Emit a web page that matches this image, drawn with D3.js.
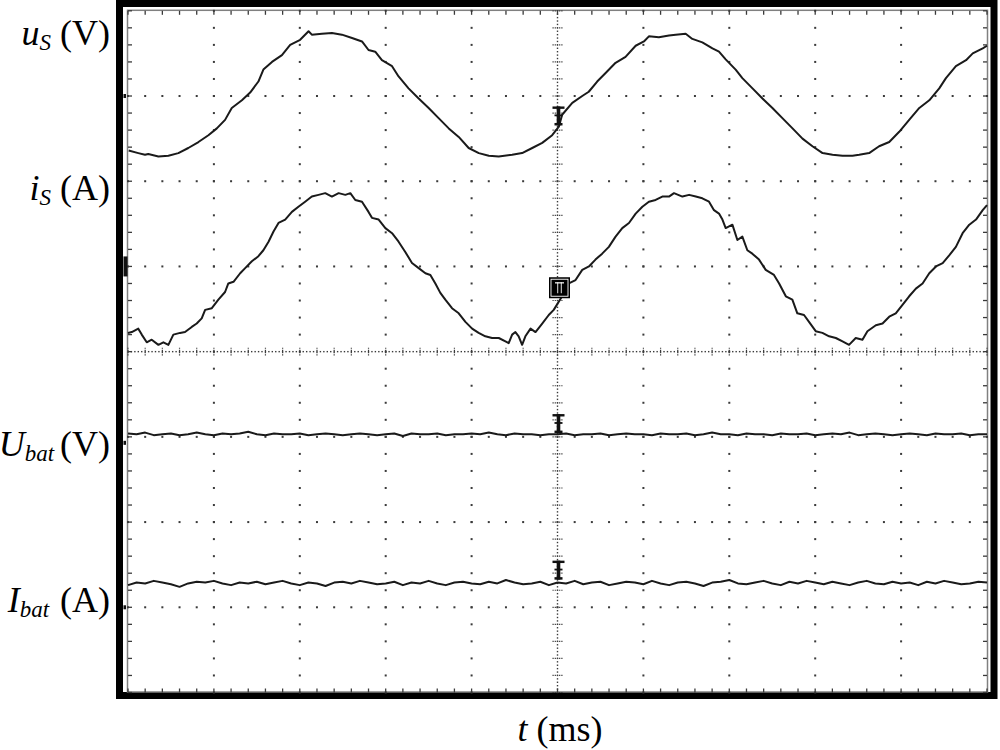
<!DOCTYPE html>
<html>
<head>
<meta charset="utf-8">
<script src="https://cdn.jsdelivr.net/npm/d3@7"></script>
<style>
html,body{margin:0;padding:0;background:#fff;}
svg{display:block;}
</style>
</head>
<body>
<svg id="c" width="1000" height="750"></svg>
<script>
// ---------- DATA (t in ms, 5 ms/div; values in divisions from screen centre) ----------
const uS_t = [0.04,0.60,0.99,1.18,1.77,2.35,2.93,3.51,4.10,4.68,5.17,5.65,6.04,6.63,7.11,7.59,7.88,8.38,8.96,9.44,10.02,10.51,10.70,11.29,11.87,12.45,13.04,13.62,14.00,14.39,14.78,15.37,15.75,16.33,16.92,17.50,18.08,18.67,19.25,19.83,20.42,21.00,21.58,22.36,22.94,23.53,24.11,24.69,25.08,25.27,25.86,26.44,26.82,27.31,27.80,28.38,28.96,29.55,30.03,30.32,30.90,31.49,31.88,32.46,32.85,33.43,34.02,34.40,34.79,35.37,35.76,36.35,36.93,37.51,38.09,38.68,39.26,39.84,40.43,41.01,41.59,42.17,42.56,43.14,43.72,44.31,44.89,45.47,46.06,46.64,47.22,47.61,48.19,48.78,49.17,49.75,50.0];
const uS_v = [2.36,2.33,2.31,2.32,2.29,2.30,2.33,2.39,2.46,2.54,2.62,2.72,2.86,2.95,3.04,3.17,3.31,3.40,3.48,3.60,3.66,3.76,3.72,3.73,3.74,3.72,3.68,3.64,3.54,3.52,3.42,3.35,3.23,3.09,2.97,2.86,2.74,2.62,2.52,2.39,2.33,2.30,2.29,2.31,2.33,2.39,2.45,2.54,2.64,2.78,2.92,3.00,3.05,3.17,3.27,3.39,3.46,3.59,3.64,3.70,3.69,3.71,3.72,3.73,3.67,3.63,3.56,3.52,3.43,3.31,3.21,3.09,2.97,2.86,2.74,2.62,2.50,2.41,2.33,2.31,2.30,2.30,2.31,2.33,2.41,2.46,2.58,2.72,2.86,2.95,3.09,3.21,3.35,3.42,3.50,3.56,3.59];

const iS_t = [0.00,0.22,0.60,0.80,1.09,1.38,1.77,2.06,2.35,2.64,3.03,3.32,3.71,4.00,4.29,4.49,4.88,5.26,5.65,5.84,6.14,6.53,6.82,7.21,7.59,7.88,8.18,8.47,8.76,9.15,9.54,9.92,10.31,10.70,11.09,11.48,11.87,12.26,12.65,12.94,13.23,13.62,14.00,14.20,14.59,14.98,15.37,15.75,16.14,16.53,16.92,17.31,17.60,17.89,18.18,18.47,18.86,19.25,19.64,20.03,20.41,20.80,21.19,21.58,21.97,22.16,22.36,22.55,22.74,22.94,23.13,23.43,23.72,24.11,24.49,24.78,25.27,25.66,26.05,26.44,26.83,27.21,27.60,27.99,28.38,28.77,29.16,29.55,29.94,30.32,30.71,31.10,31.49,31.78,32.27,32.66,33.05,33.43,33.82,34.11,34.40,34.60,34.79,35.18,35.47,35.76,36.05,36.34,36.73,37.12,37.60,37.90,38.29,38.67,38.96,39.35,39.64,40.03,40.42,40.81,41.20,41.59,41.97,42.36,42.75,43.04,43.53,43.92,44.31,44.69,45.08,45.47,45.86,46.25,46.64,47.03,47.42,47.80,48.19,48.58,48.97,49.36,49.75,50.0];
const iS_v = [0.22,0.23,0.27,0.20,0.11,0.14,0.08,0.11,0.08,0.20,0.22,0.23,0.29,0.33,0.39,0.49,0.51,0.61,0.70,0.80,0.82,0.92,0.98,1.06,1.12,1.19,1.29,1.41,1.51,1.55,1.64,1.70,1.76,1.82,1.84,1.86,1.82,1.86,1.84,1.86,1.78,1.76,1.64,1.57,1.55,1.45,1.39,1.29,1.17,1.04,0.98,0.92,0.90,0.80,0.69,0.61,0.51,0.45,0.35,0.27,0.22,0.18,0.16,0.16,0.12,0.10,0.20,0.23,0.18,0.08,0.18,0.27,0.23,0.33,0.43,0.49,0.65,0.80,0.84,0.96,1.00,1.08,1.15,1.23,1.35,1.45,1.51,1.62,1.70,1.76,1.78,1.82,1.82,1.86,1.82,1.84,1.82,1.80,1.76,1.66,1.62,1.55,1.45,1.49,1.31,1.35,1.19,1.15,1.08,0.96,0.90,0.80,0.65,0.61,0.45,0.43,0.35,0.24,0.22,0.18,0.16,0.12,0.08,0.16,0.14,0.24,0.31,0.33,0.41,0.45,0.55,0.65,0.74,0.80,0.92,1.00,1.04,1.13,1.23,1.39,1.49,1.55,1.66,1.72];

const bat_t = [0,0.5,1,1.5,2,2.5,3,3.5,4,4.5,5,5.5,6,6.5,7,7.5,8,8.5,9,9.5,10,10.5,11,11.5,12,12.5,13,13.5,14,14.5,15,15.5,16,16.5,17,17.5,18,18.5,19,19.5,20,20.5,21,21.5,22,22.5,23,23.5,24,24.5,25,25.5,26,26.5,27,27.5,28,28.5,29,29.5,30,30.5,31,31.5,32,32.5,33,33.5,34,34.5,35,35.5,36,36.5,37,37.5,38,38.5,39,39.5,40,40.5,41,41.5,42,42.5,43,43.5,44,44.5,45,45.5,46,46.5,47,47.5,48,48.5,49,49.5,50];
const Ubat_v = [-0.96,-0.97,-0.95,-0.98,-0.97,-0.96,-0.98,-0.97,-0.95,-0.97,
-0.98,-0.96,-0.97,-0.96,-0.94,-0.97,-0.98,-0.96,-0.97,-0.97,
-0.96,-0.98,-0.97,-0.96,-0.97,-0.98,-0.97,-0.96,-0.97,-0.98,
-0.97,-0.96,-0.99,-0.96,-0.97,-0.97,-0.96,-0.98,-0.97,-0.97,
-0.96,-0.97,-0.95,-0.97,-0.98,-0.96,-0.97,-0.97,-0.98,-0.97,
-0.97,-0.96,-0.98,-0.97,-0.97,-0.96,-0.98,-0.97,-0.96,-0.97,
-0.97,-0.98,-0.96,-0.97,-0.97,-0.96,-0.98,-0.97,-0.95,-0.97,
-0.97,-0.98,-0.96,-0.97,-0.97,-0.98,-0.96,-0.97,-0.97,-0.96,
-0.98,-0.97,-0.96,-0.97,-0.95,-0.98,-0.97,-0.96,-0.97,-0.98,
-0.97,-0.96,-0.97,-0.98,-0.96,-0.97,-0.97,-0.96,-0.98,-0.97,-0.97];
const Ibat_v = [-2.74,-2.71,-2.72,-2.69,-2.71,-2.73,-2.76,-2.72,-2.70,-2.71,
-2.69,-2.72,-2.74,-2.71,-2.72,-2.70,-2.73,-2.71,-2.69,-2.72,
-2.74,-2.71,-2.72,-2.75,-2.71,-2.70,-2.72,-2.69,-2.71,-2.73,
-2.72,-2.70,-2.74,-2.71,-2.72,-2.69,-2.72,-2.74,-2.71,-2.70,
-2.72,-2.73,-2.70,-2.72,-2.68,-2.71,-2.73,-2.72,-2.70,-2.74,
-2.71,-2.72,-2.69,-2.73,-2.71,-2.70,-2.74,-2.72,-2.70,-2.71,
-2.73,-2.69,-2.72,-2.74,-2.71,-2.70,-2.72,-2.75,-2.71,-2.70,
-2.68,-2.72,-2.73,-2.71,-2.69,-2.72,-2.74,-2.70,-2.72,-2.69,
-2.71,-2.73,-2.70,-2.72,-2.74,-2.71,-2.69,-2.72,-2.73,-2.70,
-2.72,-2.71,-2.74,-2.70,-2.72,-2.69,-2.71,-2.73,-2.72,-2.70,-2.71];

// trace reference markers (level in divisions)
const markerLevels = [2.76, -0.85, -2.57];
const boxMarkerLevel = 0.75;
const groundLevels = [3.0, 1.0, -1.07, -3.0];

// labels
const channelLabels = [
  {main:'u', sub:'S',   unit:'(V)', gap:9,  y:45},
  {main:'i', sub:'S',   unit:'(A)', gap:9,  y:200},
  {main:'U', sub:'bat', unit:'(V)', gap:6,  y:456},
  {main:'I', sub:'bat', unit:'(A)', gap:11, y:612}
];
const xLabel = {main:'t', unit:'(ms)'};

// ---------- DRAWING ----------
const svg = d3.select('#c');
const X = d3.scaleLinear().domain([0, 50]).range([128, 987]);
const Y = d3.scaleLinear().domain([-4, 4]).range([692.5, 10.8]);
const FONT = '"Liberation Serif","Times New Roman",Times,serif';

// outer heavy frame
svg.append('rect').attr('x', 119.5).attr('y', 3.5).attr('width', 874.5).attr('height', 692)
  .attr('fill', 'none').attr('stroke', '#000').attr('stroke-width', 7);
// graticule border
svg.append('rect').attr('x', X(0) - 0.5).attr('y', Y(4) - 0.5)
  .attr('width', X(50) - X(0) + 1).attr('height', Y(-4) - Y(4))
  .attr('fill', 'none').attr('stroke', '#808080').attr('stroke-width', 1.5);

const g = svg.append('g');
const dotCol = '#3a3a3a';
// major dotted grid lines
const xMaj = d3.range(0, 11).map(i => i * 5);
const yMaj = d3.range(0, 9).map(i => -4 + i);
const yMinor = d3.range(0, 41).map(j => -4 + j * 0.2);
const xMinor = d3.range(0, 51).map(j => j);
xMaj.forEach((xv, i) => {
  if (i === 0 || i === 10 || i === 5) return;
  yMinor.forEach(yv => g.append('rect').attr('x', X(xv) - 1).attr('y', Y(yv) - 1)
    .attr('width', 2).attr('height', 2).attr('fill', dotCol));
});
yMaj.forEach((yv, i) => {
  if (i === 0 || i === 8 || i === 4) return;
  xMinor.forEach(xv => g.append('rect').attr('x', X(xv) - 1).attr('y', Y(yv) - 1)
    .attr('width', 2).attr('height', 2).attr('fill', dotCol));
});
// centre axes: fine dots + minor crossbars
d3.range(0, 251).forEach(k => {
  const xv = k * 0.2;
  g.append('rect').attr('x', X(xv) - 0.7).attr('y', Y(0) - 0.7).attr('width', 1.4).attr('height', 1.4).attr('fill', dotCol);
});
d3.range(0, 201).forEach(k => {
  const yv = -4 + k * 0.04;
  g.append('rect').attr('x', X(25) - 0.7).attr('y', Y(yv) - 0.7).attr('width', 1.4).attr('height', 1.4).attr('fill', dotCol);
});
xMinor.forEach(xv => g.append('line').attr('x1', X(xv)).attr('x2', X(xv)).attr('y1', Y(0) - 4).attr('y2', Y(0) + 4)
  .attr('stroke', dotCol).attr('stroke-width', 1.2).attr('stroke-dasharray', '1.2,1'));
yMinor.forEach(yv => g.append('line').attr('y1', Y(yv)).attr('y2', Y(yv)).attr('x1', X(25) - 5).attr('x2', X(25) + 5)
  .attr('stroke', dotCol).attr('stroke-width', 1.2).attr('stroke-dasharray', '1.2,1'));
// edge ticks
xMinor.forEach(xv => {
  g.append('line').attr('x1', X(xv)).attr('x2', X(xv)).attr('y1', Y(4)).attr('y2', Y(4) + 4).attr('stroke', dotCol).attr('stroke-width', 1.3);
  g.append('line').attr('x1', X(xv)).attr('x2', X(xv)).attr('y1', Y(-4) - 4).attr('y2', Y(-4)).attr('stroke', dotCol).attr('stroke-width', 1.3);
});
yMinor.forEach(yv => {
  g.append('line').attr('y1', Y(yv)).attr('y2', Y(yv)).attr('x1', X(0)).attr('x2', X(0) + 4).attr('stroke', dotCol).attr('stroke-width', 1.3);
  g.append('line').attr('y1', Y(yv)).attr('y2', Y(yv)).attr('x1', X(50) - 4).attr('x2', X(50)).attr('stroke', dotCol).attr('stroke-width', 1.3);
});

// traces
const line = d3.line().x(d => X(d[0])).y(d => Y(d[1]));
const traces = [
  d3.zip(uS_t, uS_v),
  d3.zip(iS_t, iS_v),
  d3.zip(bat_t, Ubat_v),
  d3.zip(bat_t, Ibat_v)
];
svg.append('g').selectAll('path').data(traces).join('path')
  .attr('d', line).attr('fill', 'none').attr('stroke', '#1a1a1a')
  .attr('stroke-width', 2).attr('stroke-linejoin', 'round');

// trigger / reference markers at screen centre
const mk = svg.append('g');
markerLevels.forEach(lv => {
  const cx = X(25) + 1, cy = Y(lv);
  mk.append('rect').attr('x', cx - 6).attr('y', cy - 10).attr('width', 12).attr('height', 2.4).attr('fill', '#111');
  mk.append('rect').attr('x', cx - 1.8).attr('y', cy - 10).attr('width', 3.6).attr('height', 19).attr('fill', '#111');
  mk.append('rect').attr('x', cx - 4).attr('y', cy - 2).attr('width', 8).attr('height', 1.8).attr('fill', '#111');
  mk.append('rect').attr('x', cx - 4).attr('y', cy + 6.5).attr('width', 8).attr('height', 2.5).attr('fill', '#111');
});
{
  const cx = X(25) + 2, cy = Y(boxMarkerLevel);
  mk.append('rect').attr('x', cx - 10.5).attr('y', cy - 10.5).attr('width', 21).attr('height', 21).attr('fill', '#000');
  mk.append('rect').attr('x', cx - 8.5).attr('y', cy - 8.5).attr('width', 17).attr('height', 17)
    .attr('fill', 'none').attr('stroke', '#fff').attr('stroke-width', 0.9);
  mk.append('rect').attr('x', cx - 4.5).attr('y', cy - 5.5).attr('width', 9).attr('height', 1.2).attr('fill', '#fff');
  mk.append('rect').attr('x', cx - 2.2).attr('y', cy - 5.5).attr('width', 0.9).attr('height', 11).attr('fill', '#fff');
  mk.append('rect').attr('x', cx + 1.3).attr('y', cy - 5.5).attr('width', 0.9).attr('height', 11).attr('fill', '#fff');
}
// ground markers on the left edge
groundLevels.forEach((lv, i) => {
  const h = i === 1 ? 20 : 4;
  const w = i === 1 ? 4 : 2.5;
  mk.append('rect').attr('x', X(0) - 4.5).attr('y', Y(lv) - h / 2).attr('width', w).attr('height', h).attr('fill', '#111');
});

// labels
channelLabels.forEach(l => {
  const t = svg.append('text').attr('x', 110).attr('y', l.y).attr('text-anchor', 'end')
    .style('font-family', FONT).style('font-size', '36px').attr('fill', '#000');
  t.append('tspan').text(l.main).style('font-style', 'italic');
  t.append('tspan').text(l.sub).style('font-style', 'italic').style('font-size', '23px').attr('dy', 5);
  t.append('tspan').text(l.unit).attr('dy', -5).attr('dx', l.gap);
});
{
  const t = svg.append('text').attr('x', 560).attr('y', 741).attr('text-anchor', 'middle')
    .style('font-family', FONT).style('font-size', '36px').attr('fill', '#000');
  t.append('tspan').text(xLabel.main).style('font-style', 'italic');
  t.append('tspan').text(xLabel.unit).attr('dx', 9);
}
</script>
</body>
</html>
